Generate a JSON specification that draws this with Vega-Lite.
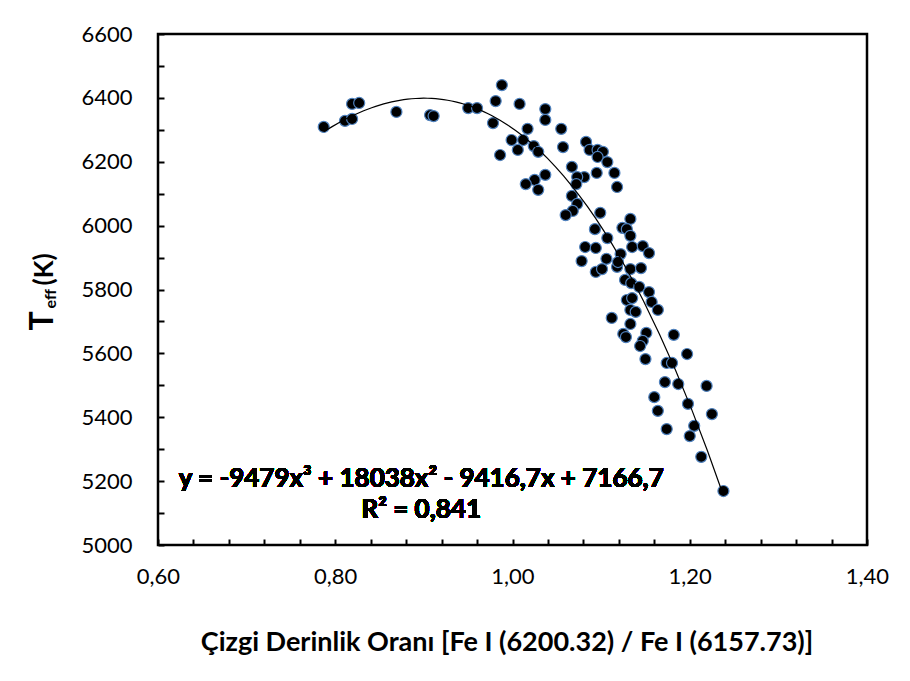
{
  "$schema": "https://vega.github.io/schema/vega-lite/v6.json",
  "width": 709,
  "height": 511,
  "autosize": {"type": "none"},
  "padding": {"left": 158, "top": 34, "right": 43, "bottom": 136},
  "background": "white",
  "config": {
    "font": "Lato",
    "view": {"stroke": "black", "strokeWidth": 2.5},
    "axis": {"grid": false, "domain": false, "labelColor": "black", "titleColor": "black", "labelFont": "Lato", "titleFont": "Lato"}
  },
  "data": {
    "values": [
      {"ratio": 0.787, "teff": 6309}, {"ratio": 0.811, "teff": 6328}, {"ratio": 0.819, "teff": 6334}, {"ratio": 0.819, "teff": 6381},
      {"ratio": 0.827, "teff": 6384}, {"ratio": 0.869, "teff": 6356}, {"ratio": 0.907, "teff": 6346}, {"ratio": 0.911, "teff": 6343},
      {"ratio": 0.950, "teff": 6368}, {"ratio": 0.960, "teff": 6368}, {"ratio": 0.988, "teff": 6440}, {"ratio": 0.981, "teff": 6390},
      {"ratio": 1.008, "teff": 6381}, {"ratio": 1.037, "teff": 6365}, {"ratio": 1.037, "teff": 6331}, {"ratio": 0.978, "teff": 6321},
      {"ratio": 1.017, "teff": 6303}, {"ratio": 1.055, "teff": 6303}, {"ratio": 0.999, "teff": 6268}, {"ratio": 1.012, "teff": 6268},
      {"ratio": 1.006, "teff": 6237}, {"ratio": 1.024, "teff": 6249}, {"ratio": 1.029, "teff": 6231}, {"ratio": 0.986, "teff": 6221},
      {"ratio": 1.057, "teff": 6246}, {"ratio": 1.083, "teff": 6262}, {"ratio": 1.087, "teff": 6237}, {"ratio": 1.096, "teff": 6237},
      {"ratio": 1.102, "teff": 6231}, {"ratio": 1.096, "teff": 6215}, {"ratio": 1.107, "teff": 6199}, {"ratio": 1.067, "teff": 6184},
      {"ratio": 1.081, "teff": 6152}, {"ratio": 1.073, "teff": 6152}, {"ratio": 1.072, "teff": 6130}, {"ratio": 1.095, "teff": 6165},
      {"ratio": 1.115, "teff": 6165}, {"ratio": 1.118, "teff": 6121}, {"ratio": 1.037, "teff": 6159}, {"ratio": 1.025, "teff": 6143},
      {"ratio": 1.015, "teff": 6130}, {"ratio": 1.029, "teff": 6112}, {"ratio": 1.067, "teff": 6093}, {"ratio": 1.073, "teff": 6068},
      {"ratio": 1.068, "teff": 6046}, {"ratio": 1.060, "teff": 6033}, {"ratio": 1.099, "teff": 6040}, {"ratio": 1.093, "teff": 5989},
      {"ratio": 1.124, "teff": 5993}, {"ratio": 1.133, "teff": 6021}, {"ratio": 1.129, "teff": 5989}, {"ratio": 1.133, "teff": 5968},
      {"ratio": 1.107, "teff": 5961}, {"ratio": 1.082, "teff": 5933}, {"ratio": 1.094, "teff": 5930}, {"ratio": 1.135, "teff": 5933},
      {"ratio": 1.147, "teff": 5936}, {"ratio": 1.154, "teff": 5914}, {"ratio": 1.122, "teff": 5911}, {"ratio": 1.106, "teff": 5896},
      {"ratio": 1.078, "teff": 5889}, {"ratio": 1.094, "teff": 5855}, {"ratio": 1.101, "teff": 5864}, {"ratio": 1.118, "teff": 5871},
      {"ratio": 1.119, "teff": 5886}, {"ratio": 1.133, "teff": 5864}, {"ratio": 1.145, "teff": 5867}, {"ratio": 1.127, "teff": 5830},
      {"ratio": 1.134, "teff": 5820}, {"ratio": 1.143, "teff": 5808}, {"ratio": 1.154, "teff": 5792}, {"ratio": 1.129, "teff": 5767},
      {"ratio": 1.135, "teff": 5773}, {"ratio": 1.157, "teff": 5761}, {"ratio": 1.164, "teff": 5736}, {"ratio": 1.133, "teff": 5736},
      {"ratio": 1.139, "teff": 5730}, {"ratio": 1.112, "teff": 5711}, {"ratio": 1.133, "teff": 5692}, {"ratio": 1.125, "teff": 5661},
      {"ratio": 1.128, "teff": 5651}, {"ratio": 1.151, "teff": 5664}, {"ratio": 1.147, "teff": 5639}, {"ratio": 1.144, "teff": 5623},
      {"ratio": 1.182, "teff": 5658}, {"ratio": 1.197, "teff": 5598}, {"ratio": 1.150, "teff": 5582}, {"ratio": 1.174, "teff": 5570},
      {"ratio": 1.180, "teff": 5570}, {"ratio": 1.172, "teff": 5510}, {"ratio": 1.187, "teff": 5504}, {"ratio": 1.219, "teff": 5498},
      {"ratio": 1.160, "teff": 5463}, {"ratio": 1.198, "teff": 5442}, {"ratio": 1.164, "teff": 5420}, {"ratio": 1.225, "teff": 5410},
      {"ratio": 1.205, "teff": 5373}, {"ratio": 1.200, "teff": 5341}, {"ratio": 1.174, "teff": 5363}, {"ratio": 1.213, "teff": 5276},
      {"ratio": 1.238, "teff": 5169}
    ]
  },
  "resolve": {"axis": {"y": "independent"}},
  "layer": [
    {
      "mark": {"type": "circle", "size": 122, "fill": "black", "opacity": 1, "stroke": "#4f81bd", "strokeWidth": 1.2},
      "encoding": {
        "x": {
          "field": "ratio", "type": "quantitative",
          "scale": {"domain": [0.6, 1.4], "nice": false, "zero": false},
          "axis": {
            "values": [0.6, 0.64, 0.68, 0.72, 0.76, 0.8, 0.84, 0.88, 0.92, 0.96, 1.0, 1.04, 1.08, 1.12, 1.16, 1.2, 1.24, 1.28, 1.32, 1.36, 1.4],
            "tickCount": 40,
            "labelExpr": "round(datum.value*100) % 20 == 0 ? replace(format(datum.value, '.2f'), '.', ',') : ''",
            "labelOverlap": false, "labelFlush": false,
            "tickSize": -6, "tickWidth": 2, "tickColor": "black",
            "labelFontSize": 22, "labelPadding": 27,
            "title": "Çizgi Derinlik Oranı [Fe I (6200.32) / Fe I (6157.73)]",
            "titleFontSize": 27, "titleFontWeight": "bold",
            "titleX": 348.5, "titleY": 105, "titleAlign": "center", "titleBaseline": "alphabetic"
          }
        },
        "y": {
          "field": "teff", "type": "quantitative",
          "scale": {"domain": [5000, 6600], "nice": false, "zero": false},
          "axis": {
            "values": [5000, 5100, 5200, 5300, 5400, 5500, 5600, 5700, 5800, 5900, 6000, 6100, 6200, 6300, 6400, 6500, 6600],
            "tickCount": 40,
            "labelExpr": "datum.value % 200 == 0 ? format(datum.value, 'd') : ''",
            "labelOverlap": false, "labelFlush": false,
            "tickSize": -6, "tickWidth": 2, "tickColor": "black",
            "labelFontSize": 22, "labelPadding": 32,
            "title": "T", "titleFontSize": 32, "titleFontWeight": "bold",
            "titleAngle": -90, "titleX": -106, "titleY": 296, "titleAlign": "left", "titleBaseline": "alphabetic"
          }
        }
      }
    },
    {
      "transform": [{"regression": "teff", "on": "ratio", "method": "poly", "order": 3}],
      "mark": {"type": "line", "color": "black", "strokeWidth": 1.2},
      "encoding": {
        "x": {"field": "ratio", "type": "quantitative"},
        "y": {
          "field": "teff", "type": "quantitative",
          "axis": {
            "orient": "left", "labels": false, "ticks": false, "domain": false,
            "title": "eff", "titleFontSize": 16, "titleFontWeight": "bold",
            "titleAngle": -90, "titleX": -103, "titleY": 274, "titleAlign": "left", "titleBaseline": "alphabetic"
          }
        }
      }
    },
    {
      "mark": {"type": "text", "text": ["y = -9479x³ + 18038x² - 9416,7x + 7166,7", "R² = 0,841"], "fontSize": 26, "fontWeight": "bold", "color": "black", "align": "center", "baseline": "alphabetic", "lineHeight": 31},
      "encoding": {
        "x": {"datum": 0.897, "type": "quantitative"},
        "y": {
          "datum": 5182, "type": "quantitative",
          "axis": {
            "orient": "left", "labels": false, "ticks": false, "domain": false,
            "title": "(K)", "titleFontSize": 26, "titleFontWeight": "bold",
            "titleAngle": -90, "titleX": -106, "titleY": 251, "titleAlign": "left", "titleBaseline": "alphabetic"
          }
        }
      }
    }
  ]
}
